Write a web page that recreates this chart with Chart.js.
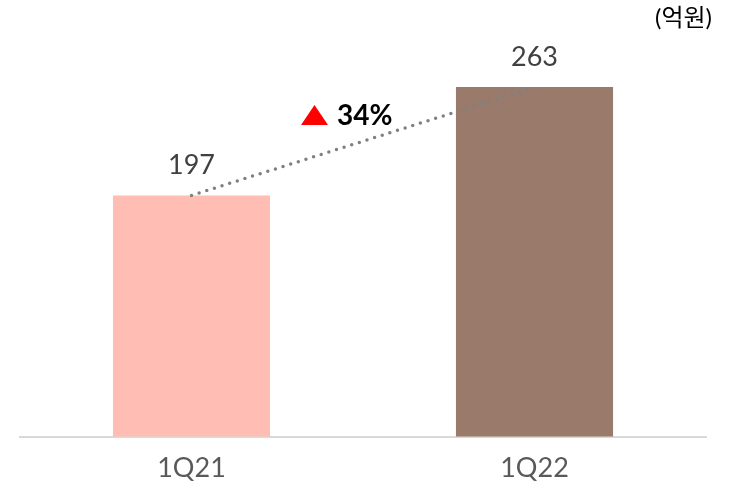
<!DOCTYPE html>
<html lang="ko">
<head>
  <meta charset="UTF-8" />
  <title>1Q21 vs 1Q22</title>
  <script src="https://cdn.jsdelivr.net/npm/chart.js"></script>
  <style>
    body { margin: 0; background: #fff; }
    #wrap { width: 729px; height: 493px; position: relative; }
  </style>
</head>
<body>
<div id="wrap"><canvas id="barChart"></canvas></div>

<script>
  const quarters = ["1Q21", "1Q22"];
  const sales = [197, 263];
  const barColors = ["#FFBDB4", "#997A6B"];
  const unitLabel = "(억원)";

  const fontFamily = "Lato, 'Noto Sans CJK KR', sans-serif";

  // value labels, growth marker and unit text
  const labelPlugin = {
    id: 'labels',
    afterDatasetsDraw(chart) {
      const ctx = chart.ctx;
      const bars = chart.getDatasetMeta(1).data;
      ctx.save();
      ctx.font = "27px " + fontFamily;
      ctx.fillStyle = "#404040";
      ctx.textAlign = "center";
      ctx.textBaseline = "middle";
      bars.forEach((b, i) => {
        ctx.fillText(sales[i], b.x, b.y - 30);
      });

      // growth marker
      const growth = Math.round((sales[1] / sales[0] - 1) * 100);
      ctx.fillStyle = "#FF0000";
      ctx.beginPath();
      ctx.moveTo(301, 125);
      ctx.lineTo(328, 125);
      ctx.lineTo(314.5, 105);
      ctx.closePath();
      ctx.fill();
      ctx.fillStyle = "#000";
      ctx.font = "bold 28px " + fontFamily;
      ctx.textAlign = "left";
      ctx.fillText(growth + "%", 337, 116);

      // unit
      ctx.font = "24px " + fontFamily;
      ctx.textAlign = "right";
      ctx.fillText(unitLabel, 712, 18);
      ctx.restore();
    }
  };

  new Chart(document.getElementById("barChart"), {
    type: 'bar',
    data: {
      labels: quarters,
      datasets: [
        {
          type: 'line',
          data: sales,
          borderColor: "#808080",
          borderWidth: 3.5,
          borderDash: [0, 8],
          borderCapStyle: 'round',
          pointRadius: 0,
          fill: false,
          order: 0
        },
        {
          data: sales,
          backgroundColor: barColors,
          barPercentage: 0.458,
          categoryPercentage: 1,
          order: 1
        }
      ]
    },
    options: {
      responsive: true,
      maintainAspectRatio: false,
      animation: false,
      layout: { padding: { left: 20, right: 23, top: 28, bottom: -6 } },
      plugins: {
        legend: { display: false },
        tooltip: { enabled: false }
      },
      scales: {
        x: {
          grid: { display: false, drawTicks: false },
          border: { display: true, color: "#D9D9D9", width: 2 },
          ticks: { color: "#595959", padding: 15, font: { size: 27, family: fontFamily } }
        },
        y: {
          display: false,
          min: 50,
          max: 299
        }
      }
    },
    plugins: [labelPlugin]
  });
</script>
</body>
</html>
